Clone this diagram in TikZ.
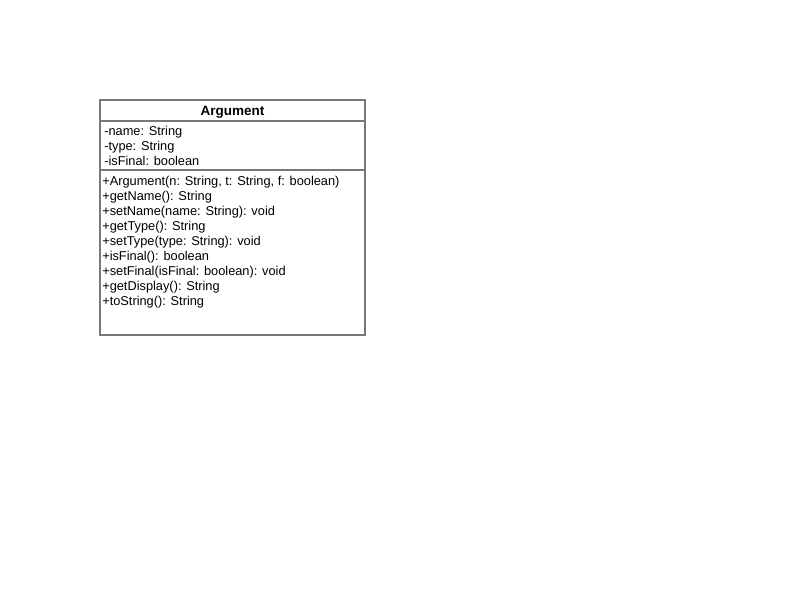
\documentclass[tikz,border=0pt]{standalone}
\usepackage{fontspec}
\setmainfont{Liberation Sans}
\usetikzlibrary{positioning}
\definecolor{umlline}{RGB}{120,120,120}

\begin{document}
\begin{tikzpicture}[
      x=0.025cm, y=-0.025cm,
      compartment/.style={draw=umlline, line width=0.05cm, inner sep=0pt, outer sep=0pt, minimum width=6.625cm},
      member/.style={font=\fontsize{9.1}{10.67}\selectfont, align=left, anchor=north west, inner sep=0pt}
    ]
      \useasboundingbox (0,0) rectangle (800,600);

      % Class Argument
      \node[compartment, minimum height=0.525cm, anchor=north west, text depth=0pt, font=\fontsize{9.6}{10}\selectfont\bfseries] (title) at (100,100) {Argument};
      \node[compartment, minimum height=1.225cm, below=0pt of title] (attrs) {};
      \node[compartment, minimum height=4.125cm, below=0pt of attrs] (methods) {};

      % Attributes
      \node[member] (attrtext) at ([shift={(4,5)}]attrs.north west) {-name: String\\-type: String\\-isFinal: boolean};

      % Operations
      \node[member] (methtext) at ([shift={(2,5.5)}]methods.north west) {+Argument(n: String, t: String, f: boolean)\\+getName(): String\\+setName(name: String): void\\+getType(): String\\+setType(type: String): void\\+isFinal(): boolean\\+setFinal(isFinal: boolean): void\\+getDisplay(): String\\+toString(): String};
    \end{tikzpicture}
\end{document}
